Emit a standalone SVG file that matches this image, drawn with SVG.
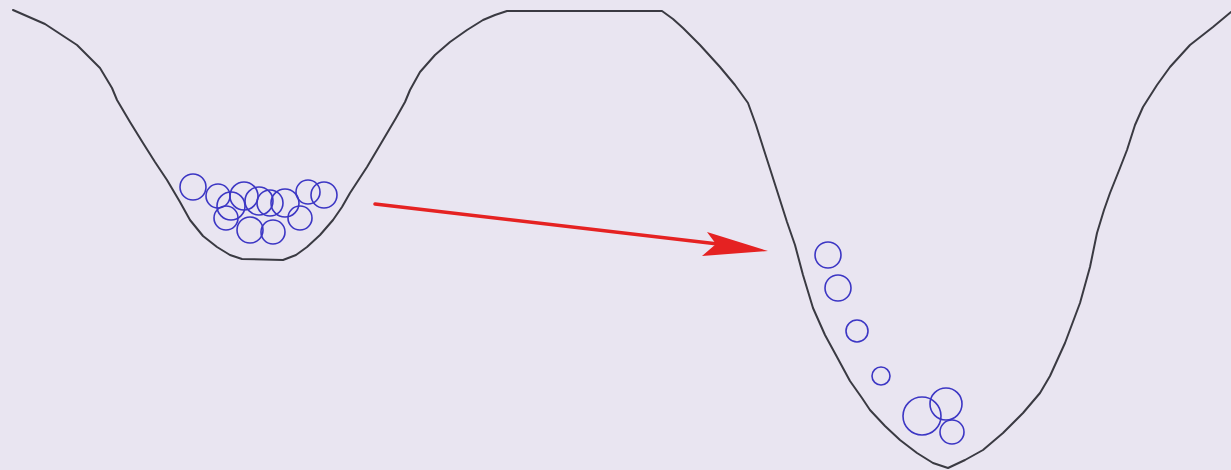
<svg xmlns="http://www.w3.org/2000/svg" width="1231" height="470" viewBox="0 0 1231 470">
  <style>
    .landscape { fill: none; stroke: #3a3a42; stroke-width: 2; stroke-linejoin: round; stroke-linecap: round; }
    .ball { fill: none; stroke: #3c36c4; stroke-width: 1.6; }
    .arrow-line { stroke: #e52222; stroke-width: 3.5; fill: none; stroke-linecap: round; }
    .arrow-head { fill: #e52222; }
  </style>
  <rect x="0" y="0" width="1231" height="470" fill="#e9e5f1"/>
  <g id="landscape">
    <polyline class="landscape" points="13,10 45,24 77,45 100,68 112,88 117,100 130,122 143,143 155,162 167,180 180,202 190,220 203,236 217,247 230,255 242,259 283,260 296,255 307,247 320,235 333,220 342,207 350,193 367,167 383,140 396,118 405,102 410,90 420,72 435,55 450,42 467,30 483,20 495,15 507,11 662,11 673,19 683,28 700,45 720,67 735,85 748,103 756,125 763,147 772,175 780,200 787,222 795,245 803,275 813,308 825,335 837,357 850,381 862,398 870,410 885,426 900,440 917,453 933,463 948,468 965,460 983,450 1003,433 1023,413 1040,393 1050,376 1065,343 1080,303 1090,267 1097,233 1104,210 1110,193 1120,168 1127,150 1135,125 1143,107 1157,85 1170,67 1190,45 1213,27 1231,12"/>
  </g>
  <g id="left-cluster">
    <circle class="ball" cx="193" cy="187" r="13"/>
    <circle class="ball" cx="218" cy="196" r="12"/>
    <circle class="ball" cx="231" cy="206" r="14"/>
    <circle class="ball" cx="226" cy="218" r="12"/>
    <circle class="ball" cx="244" cy="196" r="14"/>
    <circle class="ball" cx="250" cy="230" r="13"/>
    <circle class="ball" cx="259" cy="201" r="14"/>
    <circle class="ball" cx="273" cy="232" r="12"/>
    <circle class="ball" cx="270" cy="203" r="13"/>
    <circle class="ball" cx="285" cy="203" r="14"/>
    <circle class="ball" cx="300" cy="218" r="12"/>
    <circle class="ball" cx="308" cy="192" r="12"/>
    <circle class="ball" cx="324" cy="195" r="13"/>
  </g>
  <g id="right-balls">
    <circle class="ball" cx="828" cy="255" r="13"/>
    <circle class="ball" cx="838" cy="288" r="13"/>
    <circle class="ball" cx="857" cy="331" r="11"/>
    <circle class="ball" cx="881" cy="376" r="9"/>
    <circle class="ball" cx="922" cy="416" r="19"/>
    <circle class="ball" cx="946" cy="404" r="16"/>
    <circle class="ball" cx="952" cy="432" r="12"/>
  </g>
  <g id="connectors">
    <line class="arrow-line" x1="375" y1="204" x2="718" y2="244"/>
    <polygon class="arrow-head" points="768,251 707,232 716,244 702,256"/>
  </g>
</svg>
